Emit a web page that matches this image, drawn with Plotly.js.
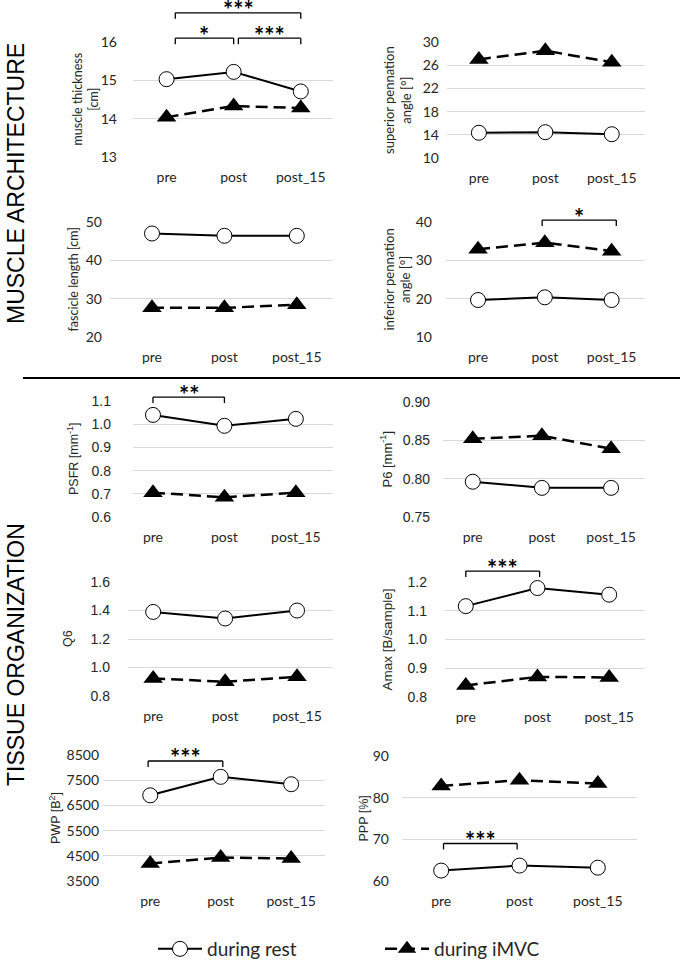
<!DOCTYPE html>
<html>
<head>
<meta charset="utf-8">
<script src="https://cdn.plot.ly/plotly-3.0.1.min.js"></script>
<style>
  html, body { margin: 0; padding: 0; background: #fff; }
  #chart { width: 683px; height: 962px; }
</style>
</head>
<body>
<div id="chart"></div>
<script>
// ---- data ----
const categories = ['pre', 'post', 'post_15'];

const thicknessRest = [15.03, 15.22, 14.71];
const thicknessIMVC = [14.04, 14.33, 14.28];
const supPennRest   = [14.35, 14.45, 14.1];
const supPennIMVC   = [27.0, 28.5, 26.5];
const fascicleRest  = [47.0, 46.4, 46.4];
const fascicleIMVC  = [27.6, 27.6, 28.4];
const infPennRest   = [19.65, 20.35, 19.65];
const infPennIMVC   = [32.9, 34.6, 32.4];
const psfrRest      = [1.040, 0.993, 1.023];
const psfrIMVC      = [0.705, 0.685, 0.705];
const p6Rest        = [0.796, 0.788, 0.788];
const p6IMVC        = [0.852, 0.856, 0.839];
const q6Rest        = [1.39, 1.344, 1.40];
const q6IMVC        = [0.923, 0.90, 0.935];
const amaxRest      = [1.116, 1.179, 1.156];
const amaxIMVC      = [0.84, 0.87, 0.868];
const pwpRest       = [6900, 7633, 7340];
const pwpIMVC       = [4193, 4433, 4393];
const pppRest       = [62.5, 63.7, 63.2];
const pppIMVC       = [82.8, 84.2, 83.4];

const seriesNames = ['during rest', 'during iMVC'];
const sectionLabels = ['MUSCLE ARCHITECTURE', 'TISSUE ORGANIZATION'];

// significance brackets: panel index, span in category units, height in data units
const brackets = [
  {panel: 0, from: 0.13, to: 1.0,  level: 16.10, text: '*'},
  {panel: 0, from: 1.07, to: 2.0,  level: 16.10, text: '***'},
  {panel: 0, from: 0.13, to: 2.0,  level: 16.76, text: '***'},
  {panel: 3, from: 0.96, to: 2.07, level: 40.5,  text: '*'},
  {panel: 4, from: 0.0,  to: 1.0,  level: 1.117, text: '**'},
  {panel: 7, from: 0.0,  to: 1.03, level: 1.238, text: '***'},
  {panel: 8, from: -0.03, to: 1.03, level: 8262, text: '***'},
  {panel: 9, from: 0.03, to: 0.97, level: 69.0,  text: '***'}
];

// ---- layout helpers ----
const W = 683, H = 962;
const fx = p => p / W;
const fy = p => 1 - p / H;
const CAL = 'Lato, "Open Sans", sans-serif';
const ARI = '"Liberation Sans", Arial, sans-serif';
const TXT = '#262626';

const panels = [
  {title: 'muscle thickness<br>[cm]', rest: thicknessRest, imvc: thicknessIMVC,
   gx: [133, 333], gy: [42, 157], yr: [13, 16], dtick: 1, tick0: 13, fmt: '',
   xr: [-0.5, 2.48], tx: 85, tickFam: CAL, titleFam: CAL, titleSize: 12.5, tgap: 15},
  {title: 'superior pennation<br>angle [°]', rest: supPennRest, imvc: supPennIMVC,
   gx: [447, 645], gy: [42, 158], yr: [10, 30], dtick: 4, tick0: 10, fmt: '',
   xr: [-0.48, 2.5], tx: 397, tickFam: CAL, titleFam: CAL, titleSize: 13, tgap: 7},
  {title: 'fascicle length [cm]', rest: fascicleRest, imvc: fascicleIMVC,
   gx: [110, 333], gy: [222, 337], yr: [20, 50], dtick: 10, tick0: 20, fmt: '',
   xr: [-0.58, 2.5], tx: 73, tickFam: CAL, titleFam: CAL, titleSize: 12.5, tgap: 7},
  {title: 'inferior pennation<br>angle [°]', rest: infPennRest, imvc: infPennIMVC,
   gx: [446, 645], gy: [222, 337], yr: [10, 40], dtick: 10, tick0: 10, fmt: '',
   xr: [-0.48, 2.5], tx: 397, tickFam: CAL, titleFam: CAL, titleSize: 13, tgap: 13},
  {title: 'PSFR [mm<sup>-1</sup>]', rest: psfrRest, imvc: psfrIMVC,
   gx: [133, 333], gy: [401, 517], yr: [0.6, 1.1], dtick: 0.1, tick0: 0.6, fmt: '.1f',
   xr: [-0.28, 2.52], tx: 73, tickFam: ARI, titleFam: ARI, titleSize: 12.5, tgap: 21},
  {title: 'P6 [mm<sup>-1</sup>]', rest: p6Rest, imvc: p6IMVC,
   gx: [443, 645], gy: [402, 517], yr: [0.75, 0.90], dtick: 0.05, tick0: 0.75, fmt: '.2f',
   xr: [-0.43, 2.49], tx: 387, tickFam: ARI, titleFam: ARI, titleSize: 13, tgap: 12},
  {title: 'Q6', rest: q6Rest, imvc: q6IMVC,
   gx: [128, 333], gy: [582, 696], yr: [0.8, 1.6], dtick: 0.2, tick0: 0.8, fmt: '.1f',
   xr: [-0.35, 2.5], tx: 68, tickFam: ARI, titleFam: ARI, titleSize: 12.5, tgap: 17},
  {title: 'Amax [B/sample]', rest: amaxRest, imvc: amaxIMVC,
   gx: [445, 645], gy: [582, 697], yr: [0.8, 1.2], dtick: 0.1, tick0: 0.8, fmt: '.1f',
   xr: [-0.29, 2.5], tx: 387, tickFam: ARI, titleFam: ARI, titleSize: 13.5, tgap: 17},
  {title: 'PWP [B<sup>2</sup>]', rest: pwpRest, imvc: pwpIMVC,
   gx: [103, 325], gy: [755, 881], yr: [3500, 8500], dtick: 1000, tick0: 3500, fmt: 'd',
   xr: [-0.67, 2.48], tx: 55, tickFam: CAL, titleFam: ARI, titleSize: 12.5, tgap: 3},
  {title: 'PPP [%]', rest: pppRest, imvc: pppIMVC,
   gx: [402, 637], gy: [756, 881], yr: [60, 90], dtick: 10, tick0: 60, fmt: '',
   xr: [-0.5, 2.5], tx: 363, tickFam: CAL, titleFam: ARI, titleSize: 12.5, tgap: 12}
];

const data = [];
const layout = {
  width: W, height: H,
  margin: {l: 0, r: 0, t: 0, b: 0, autoexpand: false},
  paper_bgcolor: '#fff', plot_bgcolor: '#fff',
  font: {family: CAL, color: TXT},
  showlegend: true,
  legend: {
    orientation: 'h', x: fx(153), xanchor: 'left', y: fy(949), yanchor: 'middle',
    font: {family: CAL, size: 19, color: TXT},
    entrywidth: 168, entrywidthmode: 'pixels', itemwidth: 44,
    bgcolor: 'rgba(0,0,0,0)'
  },
  shapes: [],
  annotations: []
};

panels.forEach((p, i) => {
  const n = i === 0 ? '' : String(i + 1);
  const xa = 'x' + n, ya = 'y' + n;
  data.push({
    x: categories, y: p.rest, xaxis: xa, yaxis: ya, type: 'scatter', mode: 'lines+markers',
    name: seriesNames[0], legendgroup: 'rest', showlegend: i === 0, cliponaxis: false,
    line: {color: '#000', width: 2},
    marker: {symbol: 'circle', size: 15, color: '#fff', line: {color: '#000', width: 1}}
  });
  data.push({
    x: categories, y: p.imvc, xaxis: xa, yaxis: ya, type: 'scatter', mode: 'lines+markers',
    name: seriesNames[1], legendgroup: 'imvc', showlegend: i === 0, cliponaxis: false,
    line: {color: '#000', width: 2.5, dash: '12px,6px'},
    marker: {symbol: 'triangle-up', size: 17, color: '#000', line: {color: '#000', width: 0}}
  });
  layout['xaxis' + n] = {
    domain: [fx(p.gx[0]), fx(p.gx[1])], anchor: ya,
    type: 'category', categoryorder: 'array', categoryarray: categories,
    range: p.xr, showgrid: false, zeroline: false, showline: false, ticks: '',
    tickfont: {family: CAL, size: 14, color: TXT}, ticklabelstandoff: 10, fixedrange: true
  };
  layout['yaxis' + n] = {
    domain: [fy(p.gy[1]), fy(p.gy[0])], anchor: xa,
    range: p.yr, tick0: p.tick0, dtick: p.dtick, tickformat: p.fmt,
    showgrid: true, gridcolor: '#d9d9d9', gridwidth: 1, zeroline: false, showline: false,
    ticks: '', tickfont: {family: p.tickFam, size: 14, color: TXT},
    ticklabelstandoff: p.tgap, fixedrange: true
  };
  layout.annotations.push({
    xref: 'paper', yref: 'paper', x: fx(p.tx), y: fy((p.gy[0] + p.gy[1]) / 2),
    xanchor: 'center', yanchor: 'middle', textangle: -90, showarrow: false,
    text: p.title, font: {family: p.titleFam, size: p.titleSize, color: TXT}
  });
});

// significance brackets, positioned in each subplot's domain space
brackets.forEach(b => {
  const p = panels[b.panel];
  const n = b.panel === 0 ? '' : String(b.panel + 1);
  const xd = v => (v - p.xr[0]) / (p.xr[1] - p.xr[0]);
  const yd = v => (v - p.yr[0]) / (p.yr[1] - p.yr[0]);
  const drop = 6 / (p.gy[1] - p.gy[0]);
  const xr = 'x' + n + ' domain', yr = 'y' + n + ' domain';
  const x0 = xd(b.from), x1 = xd(b.to), y = yd(b.level);
  const ln = {color: '#000', width: 1.3};
  layout.shapes.push({type: 'line', xref: xr, yref: yr, x0: x0, x1: x1, y0: y, y1: y, line: ln});
  layout.shapes.push({type: 'line', xref: xr, yref: yr, x0: x0, x1: x0, y0: y, y1: y - drop, line: ln});
  layout.shapes.push({type: 'line', xref: xr, yref: yr, x0: x1, x1: x1, y0: y, y1: y - drop, line: ln});
  layout.annotations.push({
    xref: xr, yref: yr, x: (x0 + x1) / 2, y: y, xanchor: 'center', yanchor: 'middle',
    yshift: 3, showarrow: false, text: '<b>' + b.text + '</b>',
    font: {family: CAL, size: 24, color: '#000'}
  });
});

// section divider and side labels
layout.shapes.push({type: 'line', xref: 'paper', yref: 'paper',
  x0: fx(23), x1: fx(680), y0: fy(378), y1: fy(378), line: {color: '#000', width: 2}});
layout.annotations.push({
  xref: 'paper', yref: 'paper', x: fx(16), y: fy(184), xanchor: 'center', yanchor: 'middle',
  textangle: -90, showarrow: false, text: sectionLabels[0],
  font: {family: ARI, size: 23, color: '#000'}
});
layout.annotations.push({
  xref: 'paper', yref: 'paper', x: fx(16), y: fy(655), xanchor: 'center', yanchor: 'middle',
  textangle: -90, showarrow: false, text: sectionLabels[1],
  font: {family: ARI, size: 23, color: '#000'}
});

Plotly.newPlot('chart', data, layout, {staticPlot: true, displayModeBar: false});
</script>
</body>
</html>
